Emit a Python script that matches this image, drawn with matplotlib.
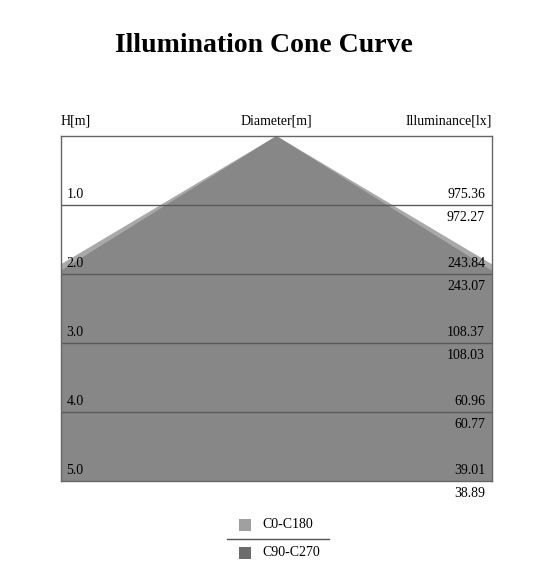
import matplotlib.pyplot as plt
import matplotlib.patches as patches

plt.rcParams['font.family'] = ['Liberation Serif', 'DejaVu Serif']

# heights [m] and cone diameters [m] for both planes
heights = [1.0, 2.0, 3.0, 4.0, 5.0]
diam_c0 = [3.36, 6.72, 10.08, 13.44, 16.80]
diam_c90 = [3.20, 6.40, 9.60, 12.80, 16.00]
# illuminance [lx] at each height
lux_c0 = [975.36, 243.84, 108.37, 60.96, 39.01]
lux_c90 = [972.27, 243.07, 108.03, 60.77, 38.89]
series = ['C0-C180', 'C90-C270']
colors = ['#a9a9a9', '#878787']
legend_colors = ['#a0a0a0', '#6b6b6b']

fig = plt.figure(figsize=(5.55, 5.69), dpi=100)
ax = fig.add_axes([61 / 555, 1 - 481 / 569, 431 / 555, 345 / 569])

half = 431 / 2 / 69  # horizontal extent in metres, same scale as height
ax.set_xlim(-half, half)
ax.set_ylim(max(heights), 0)

for d, c in zip([diam_c0, diam_c90], colors):
    pts = [(0, 0)] + [(x / 2, h) for x, h in zip(d, heights)]
    pts += [(-x / 2, h) for x, h in zip(d[::-1], heights[::-1])]
    ax.add_patch(patches.Polygon(pts, closed=True, facecolor=c,
                                 edgecolor='none'))

for h in heights[:-1]:
    ax.axhline(h, color='#5a5a5a', lw=1)

for s in ax.spines.values():
    s.set_color('#666666')
    s.set_linewidth(1)
ax.set_xticks([])
ax.set_yticks([])

for h, a, b in zip(heights, lux_c0, lux_c90):
    ax.annotate('%.1f' % h, (-half, h), xytext=(4, 3),
                textcoords='offset points', ha='left', va='bottom',
                fontsize=10)
    ax.annotate('%.2f' % a, (half, h), xytext=(-5, 3),
                textcoords='offset points', ha='right', va='bottom',
                fontsize=10)
    ax.annotate('%.2f' % b, (half, h), xytext=(-5, -4),
                textcoords='offset points', ha='right', va='top',
                fontsize=10, annotation_clip=False)

fig.text(264 / 555, 1 - 45 / 569, 'Illumination Cone Curve', ha='center',
         va='center', fontsize=20, fontweight='bold')
fig.text(61 / 555, 1 - 121 / 569, 'H[m]', ha='left', va='center',
         fontsize=10)
fig.text(276 / 555, 1 - 121 / 569, 'Diameter[m]', ha='center',
         va='center', fontsize=10)
fig.text(492 / 555, 1 - 121 / 569, 'Illuminance[lx]', ha='right',
         va='center', fontsize=10)

# legend with a separator line between the two entries
for i, (name, c) in enumerate(zip(series, legend_colors)):
    y = 525 + i * 28
    fig.patches.append(patches.Rectangle((239 / 555, 1 - (y + 6) / 569),
                                         12 / 555, 12 / 569, facecolor=c,
                                         transform=fig.transFigure))
    fig.text(262 / 555, 1 - y / 569, name, ha='left', va='center',
             fontsize=10)
fig.add_artist(plt.Line2D([227 / 555, 329 / 555], [1 - 539 / 569] * 2,
                          color='#555555', lw=1))

fig.savefig('out.png', dpi=100)
